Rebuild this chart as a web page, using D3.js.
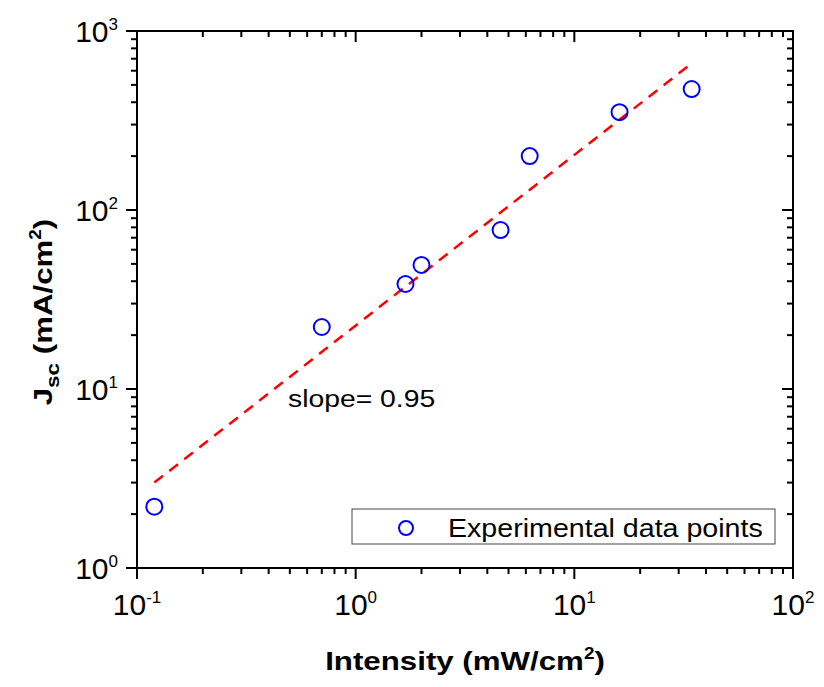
<!DOCTYPE html>
<html><head><meta charset="utf-8">
<script src="https://cdn.jsdelivr.net/npm/d3@7"></script>
<style>html,body{margin:0;padding:0;background:#fff;}svg{display:block;font-family:Arial,"Liberation Sans",sans-serif;}</style>
</head><body>
<svg id="c" width="824" height="687"></svg>
<script>
const intensity = [0.12, 0.7, 1.69, 2.0, 4.6, 6.25, 16.1, 34.4];
const jsc = [2.2, 22.2, 38.6, 49.3, 77.3, 200, 352, 474];
const fitX = [0.12, 35];
const fitY = [3.0, 670];
const xTickExp = [-1, 0, 1, 2];
const yTickExp = [0, 1, 2, 3];
const legendLabel = "Experimental data points";
const slopeLabel = "slope= 0.95";

const svg = d3.select("#c");
const L = 137, R = 793, T = 31, B = 568;
const x = d3.scaleLog().domain([0.1, 100]).range([L, R]);
const y = d3.scaleLog().domain([1, 1000]).range([B, T]);

function minors(dom) {
  const out = [];
  for (let e = Math.log10(dom[0]); e < Math.log10(dom[1]); e++)
    for (let k = 2; k <= 9; k++) out.push(k * Math.pow(10, e));
  return out;
}
const xMaj = xTickExp.map(e => Math.pow(10, e));
const yMaj = yTickExp.map(e => Math.pow(10, e));
const xMin = minors([0.1, 100]);
const yMin = minors([1, 1000]);

const MJ = 11, MN = 6;
const g = svg.append("g").attr("stroke", "#000").attr("stroke-width", 2);
xMaj.forEach(v => g.append("line").attr("x1", x(v)).attr("x2", x(v)).attr("y1", B).attr("y2", B + MJ));
xMin.forEach(v => g.append("line").attr("x1", x(v)).attr("x2", x(v)).attr("y1", B).attr("y2", B + MN));
xMaj.forEach(v => g.append("line").attr("x1", x(v)).attr("x2", x(v)).attr("y1", T).attr("y2", T + MJ));
xMin.forEach(v => g.append("line").attr("x1", x(v)).attr("x2", x(v)).attr("y1", T).attr("y2", T + MN));
yMaj.forEach(v => g.append("line").attr("y1", y(v)).attr("y2", y(v)).attr("x1", L).attr("x2", L - MJ));
yMin.forEach(v => g.append("line").attr("y1", y(v)).attr("y2", y(v)).attr("x1", L).attr("x2", L - MN));
yMaj.forEach(v => g.append("line").attr("y1", y(v)).attr("y2", y(v)).attr("x1", R).attr("x2", R - MJ));
yMin.forEach(v => g.append("line").attr("y1", y(v)).attr("y2", y(v)).attr("x1", R).attr("x2", R - MN));
g.append("rect").attr("x", L).attr("y", T).attr("width", R - L).attr("height", B - T).attr("fill", "none");

xTickExp.forEach(e => {
  const t = svg.append("text").attr("x", x(Math.pow(10, e))).attr("y", 615)
    .attr("text-anchor", "middle").attr("font-size", 30).attr("fill", "#000");
  t.append("tspan").text("10");
  t.append("tspan").attr("dy", -12).attr("font-size", 17).text(e);
});
yTickExp.forEach(e => {
  const t = svg.append("text").attr("x", 118).attr("y", y(Math.pow(10, e)) + 11)
    .attr("text-anchor", "end").attr("font-size", 30).attr("fill", "#000");
  t.append("tspan").text("10");
  t.append("tspan").attr("dy", -12).attr("font-size", 17).text(e);
});

// axis titles (glyphs are horizontally wider in the reference)
const xt = svg.append("g").attr("transform", "translate(465,670) scale(1.18,1)")
  .append("text").attr("text-anchor", "middle").attr("font-size", 26.5).attr("font-weight", "bold");
xt.append("tspan").text("Intensity (mW/cm");
xt.append("tspan").attr("dy", -11).attr("font-size", 16).text("2");
xt.append("tspan").attr("dy", 11).text(")");

const yt = svg.append("g").attr("transform", "translate(52,312) rotate(-90) scale(1.18,1)")
  .append("text").attr("text-anchor", "middle").attr("font-size", 26.5).attr("font-weight", "bold");
yt.append("tspan").text("J");
yt.append("tspan").attr("dy", 7).attr("font-size", 19).text("sc");
yt.append("tspan").attr("dy", -7).text(" (mA/cm");
yt.append("tspan").attr("dy", -11).attr("font-size", 16).text("2");
yt.append("tspan").attr("dy", 11).text(")");

svg.append("path")
  .attr("d", d3.line().x(d => x(d[0])).y(d => y(d[1]))(fitX.map((v, i) => [v, fitY[i]])))
  .attr("fill", "none").attr("stroke", "#ff0000").attr("stroke-width", 2.5)
  .attr("stroke-dasharray", "11,8");

svg.append("g").selectAll("circle").data(intensity.map((v, i) => [v, jsc[i]])).join("circle")
  .attr("cx", d => x(d[0])).attr("cy", d => y(d[1])).attr("r", 8)
  .attr("fill", "none").attr("stroke", "#0000ff").attr("stroke-width", 2);

svg.append("g").attr("transform", "translate(288,407) scale(1.18,1)")
  .append("text").attr("font-size", 24).text(slopeLabel);

svg.append("rect").attr("x", 352).attr("y", 509).attr("width", 423).attr("height", 35)
  .attr("fill", "#fff").attr("stroke", "#444").attr("stroke-width", 1);
svg.append("circle").attr("cx", 406).attr("cy", 528).attr("r", 7)
  .attr("fill", "none").attr("stroke", "#0000ff").attr("stroke-width", 2);
svg.append("g").attr("transform", "translate(448,537) scale(1.1,1)")
  .append("text").attr("font-size", 26).text(legendLabel);
</script>
</body></html>
